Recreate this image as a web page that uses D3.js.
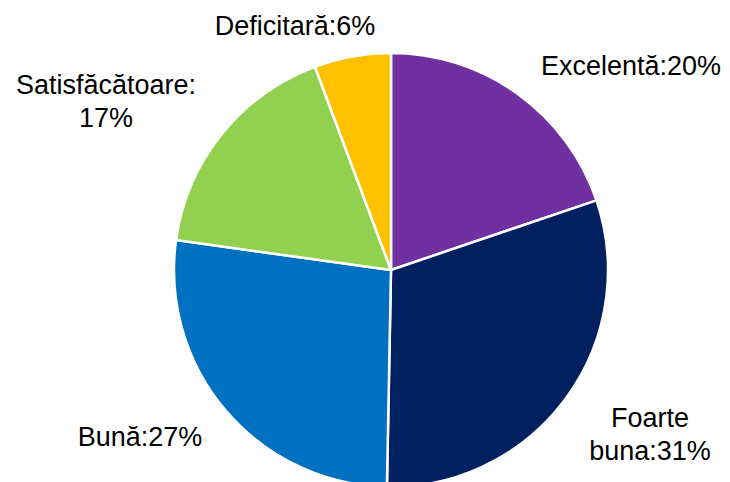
<!DOCTYPE html>
<html>
<head>
<meta charset="utf-8">
<script src="https://cdn.jsdelivr.net/npm/d3@7"></script>
<style>
  body { margin: 0; background: #fff; }
  text { font-family: "Liberation Sans", Arial, sans-serif; font-size: 27px; fill: #000; }
</style>
</head>
<body>
<div id="myChart"></div>
<script>
// data
var categories = ['Excelentă', 'Foarte buna', 'Bună', 'Satisfăcătoare', 'Deficitară'];
var shares = [19.8, 30.5, 26.9, 17.1, 5.7];
var labelLines = [
  ['Excelentă:20%'],
  ['Foarte', 'buna:31%'],
  ['Bună:27%'],
  ['Satisfăcătoare:', '17%'],
  ['Deficitară:6%']
];
var colors = ['#7030A0', '#002060', '#0070C0', '#92D050', '#FFC000'];

// label anchors (centre x, mean baseline) relative to pie centre - layout only
var labelPos = [[240, -195], [259, 173.5], [-251, 176], [-285, -159.5], [-96, -235]];

var width = 730, height = 482;
var cx = 391, cy = 270, radius = 217;

var rows = categories.map(function(c, i) { return { item: c, value: shares[i], i: i }; });

var pie = d3.pie()
  .sort(null)
  .value(function(d) { return d.value; });

var arc = d3.arc()
  .innerRadius(0)
  .outerRadius(radius);

var color = d3.scaleOrdinal().domain(categories).range(colors);

var svg = d3.select("#myChart").append("svg")
  .attr("width", width)
  .attr("height", height);

var g = svg.append("g").attr("transform", "translate(" + cx + "," + cy + ")");

g.selectAll("path")
  .data(pie(rows))
  .enter()
  .append("path")
  .attr("d", arc)
  .attr("fill", function(s) { return color(s.data.item); })
  .attr("stroke", "#fff")
  .attr("stroke-width", 2.5)
  .attr("stroke-linejoin", "round");

var lineH = 33;
var labels = g.selectAll("text.lbl")
  .data(rows)
  .enter()
  .append("text")
  .attr("class", "lbl")
  .attr("text-anchor", "middle");

labels.each(function(d) {
  var t = d3.select(this);
  var lines = labelLines[d.i];
  var p = labelPos[d.i];
  lines.forEach(function(l, k) {
    t.append("tspan")
      .attr("x", p[0])
      .attr("y", p[1] + (k - (lines.length - 1) / 2) * lineH)
      .text(l);
  });
});
</script>
</body>
</html>
